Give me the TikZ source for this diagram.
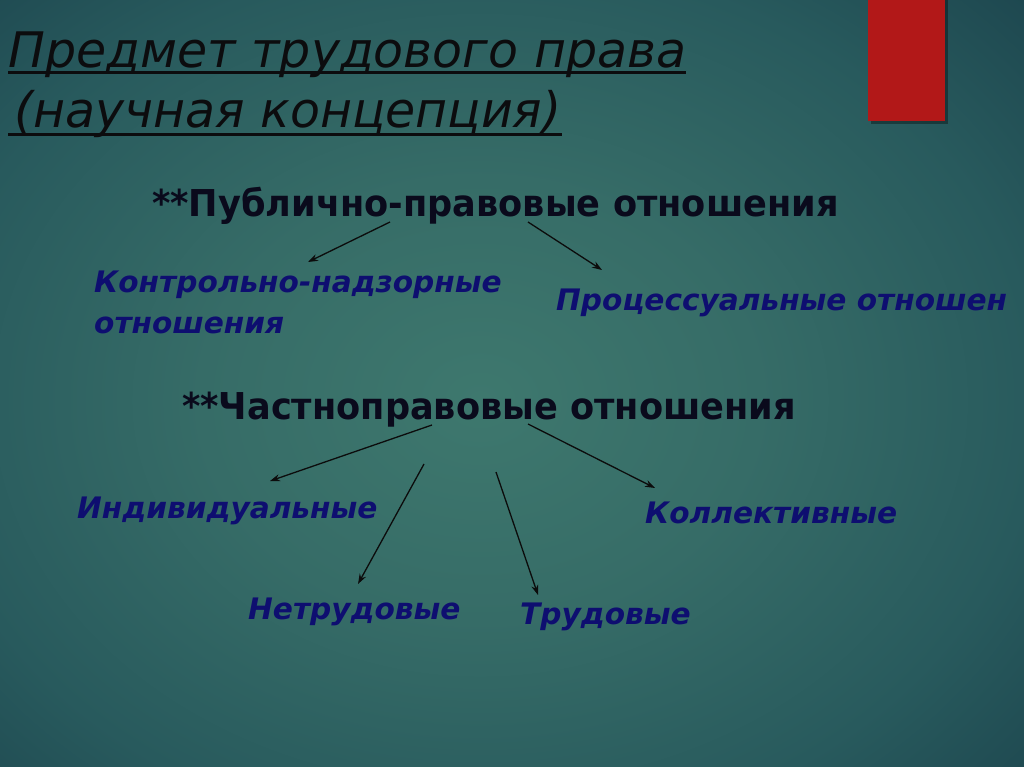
\documentclass[tikz,border=0pt]{standalone}
\usepackage{fontspec}
\setmainfont{DejaVu Sans}
\newfontfamily\headfont[FakeStretch=0.95]{DejaVu Sans}
\usetikzlibrary{arrows.meta}
\definecolor{bgA}{RGB}{62,120,110}
\definecolor{bgB}{RGB}{54,108,103}
\definecolor{bgC}{RGB}{40,90,93}
\definecolor{bgD}{RGB}{30,72,80}
\definecolor{bgE}{RGB}{24,60,74}
\definecolor{bgF}{RGB}{20,50,66}
\definecolor{ttlcol}{RGB}{12,12,14}
\definecolor{headcol}{RGB}{10,10,28}
\definecolor{labcol}{RGB}{14,14,112}
\definecolor{redbox}{RGB}{178,24,24}
\definecolor{arrcol}{RGB}{12,12,12}
\pgfdeclareradialshading{slidebg}{\pgfpoint{0bp}{0bp}}{color(0bp)=(bgA); color(12bp)=(bgB); color(24bp)=(bgC); color(32bp)=(bgD); color(40bp)=(bgE); color(50bp)=(bgF)}
\tikzset{
  ttl/.style={anchor=base west, inner sep=0pt, font=\fontsize{49}{58}\selectfont\itshape, text=ttlcol},
  head/.style={anchor=base west, inner sep=0pt, font=\headfont\fontsize{37}{44}\selectfont\bfseries, text=headcol},
  lab/.style={anchor=base west, inner sep=0pt, font=\fontsize{29.6}{36}\selectfont\bfseries\itshape, text=labcol},
  arr/.style={draw=arrcol, line width=1.3pt, -{Stealth[length=10pt,width=7pt]}},
  uline/.style={draw=ttlcol, line width=3pt}
}
\begin{document}
\begin{tikzpicture}[x=1pt,y=-1pt]
\useasboundingbox (0,0) rectangle (1024,767);
\clip (0,0) rectangle (1024,767);
\fill[bgF] (0,0) rectangle (1024,767);
\shade[shading=slidebg] (-100,-60) rectangle (1060,860);
% red box with shadow
\fill[black,opacity=0.35] (871,0) rectangle (948,124);
\fill[redbox] (868,0) rectangle (945,121);
% title
\node[ttl] (t1) at (8,68) {Предмет трудового права};
\node[ttl] (t2) at (8,128) {\hspace*{6pt}(научная концепция)};
\draw[uline] ([yshift=-5pt]t1.base west) -- ([yshift=-5pt]t1.base east);
\draw[uline] ([yshift=-7pt]t2.base west) -- ([yshift=-7pt]t2.base east);
% headings
\node[head] (h1) at (152,217) {**Публично-правовые отношения};
\node[head] (h2) at (182,419) {**Частноправовые отношения};
% labels
\node[lab] (l1a) at (94,292) {Контрольно-надзорные};
\node[lab] (l1b) at (94,333) {отношения};
\node[lab] (l2) at (556,310) {Процессуальные отношен};
\node[lab] (l3) at (77,518) {Индивидуальные};
\node[lab] (l4) at (645,523) {Коллективные};
\node[lab] (l5) at (248,619) {Нетрудовые};
\node[lab] (l6) at (520,624) {Трудовые};
% arrow ends
\coordinate (a1s) at (390,222); \coordinate (a1e) at (308,262);
\coordinate (a2s) at (528,222); \coordinate (a2e) at (602,270);
\coordinate (a3s) at (432,425); \coordinate (a3e) at (270,481);
\coordinate (a4s) at (528,424); \coordinate (a4e) at (655,488);
\coordinate (a5s) at (424,464); \coordinate (a5e) at (358,584);
\coordinate (a6s) at (496,472); \coordinate (a6e) at (538,595);
\draw[arr] (a1s) -- (a1e);
\draw[arr] (a2s) -- (a2e);
\draw[arr] (a3s) -- (a3e);
\draw[arr] (a4s) -- (a4e);
\draw[arr] (a5s) -- (a5e);
\draw[arr] (a6s) -- (a6e);
\end{tikzpicture}
\end{document}
